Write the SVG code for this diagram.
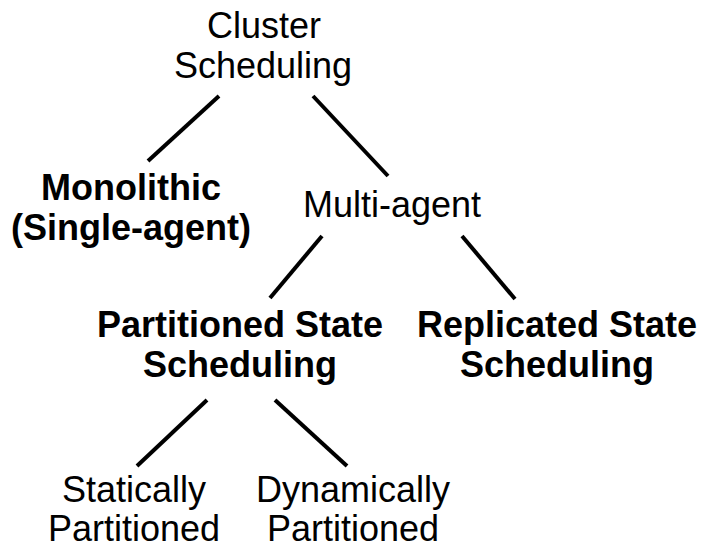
<svg xmlns="http://www.w3.org/2000/svg" width="701" height="548" viewBox="0 0 701 548">
<style>
text{font-family:"Liberation Sans",Arial,sans-serif;font-size:36px;fill:#000;text-anchor:middle}
.b{font-weight:bold}
.c line{stroke:#000;stroke-width:4;stroke-linecap:butt}
</style>
<rect width="701" height="548" fill="#fff"/>
<g class="c" id="connectors">
<line x1="219" y1="96" x2="148" y2="161"/>
<line x1="313" y1="96" x2="388" y2="176"/>
<line x1="322" y1="236" x2="270" y2="298"/>
<line x1="462" y1="236" x2="515" y2="299"/>
<line x1="207" y1="400" x2="137" y2="466"/>
<line x1="275" y1="400" x2="347" y2="466"/>
</g>
<g id="cluster"><text x="264" y="38">Cluster</text><text x="263" y="78">Scheduling</text></g>
<g id="monolithic"><text class="b" x="131" y="200">Monolithic</text><text class="b" x="131" y="240">(Single-agent)</text></g>
<g id="multiagent"><text x="392" y="217">Multi-agent</text></g>
<g id="partitioned"><text class="b" x="240" y="337">Partitioned State</text><text class="b" x="240" y="377">Scheduling</text></g>
<g id="replicated"><text class="b" x="557" y="337">Replicated State</text><text class="b" x="557" y="377">Scheduling</text></g>
<g id="static"><text x="134" y="502">Statically</text><text x="134" y="541">Partitioned</text></g>
<g id="dynamic"><text x="353" y="502">Dynamically</text><text x="353" y="541">Partitioned</text></g>
</svg>
